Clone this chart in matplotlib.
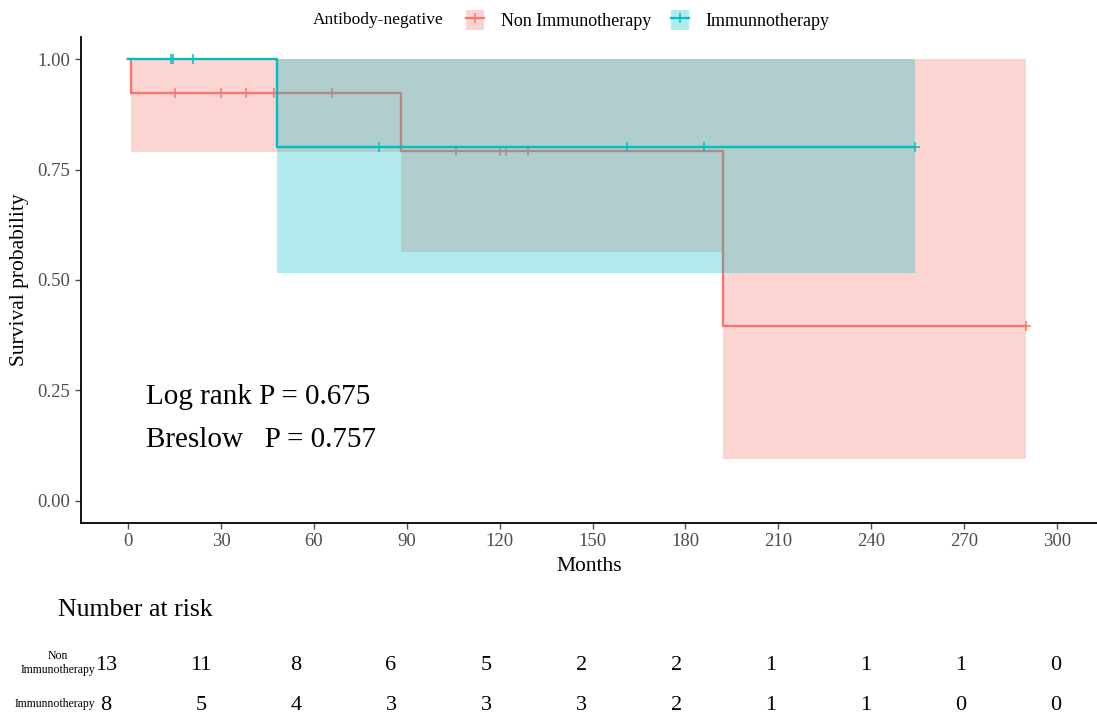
import matplotlib.pyplot as plt
from matplotlib.patches import Patch
from matplotlib.lines import Line2D
from matplotlib.legend_handler import HandlerTuple

plt.rcParams['font.family'] = ['Liberation Serif', 'DejaVu Serif']

# Kaplan-Meier steps
non_times = [0, 1, 88, 192]
non_surv = [1.0, 0.923, 0.792, 0.396]
non_lower = [1.0, 0.79, 0.563, 0.095]
non_upper = [1.0, 1.0, 1.0, 1.0]
non_end = 290
non_censor = [15, 30, 38, 47, 66, 106, 120, 122, 129, 290]

imm_times = [0, 48]
imm_surv = [1.0, 0.8]
imm_lower = [1.0, 0.516]
imm_upper = [1.0, 1.0]
imm_end = 254
imm_censor = [14, 14.6, 21, 81, 161, 186, 254]

# Number at risk
risk_times = [0, 30, 60, 90, 120, 150, 180, 210, 240, 270, 300]
risk_non = [13, 11, 8, 6, 5, 2, 2, 1, 1, 1, 0]
risk_imm = [8, 5, 4, 3, 3, 3, 2, 1, 1, 0, 0]

red = '#F8766D'
teal = '#00BFC4'


def surv_at(t, times, surv):
    s = surv[0]
    for ti, si in zip(times, surv):
        if t >= ti:
            s = si
    return s


fig = plt.figure(figsize=(10.97, 7.15), dpi=100)
ax = fig.add_axes([81 / 1097, 192 / 715, 1 - 81 / 1097, 486 / 715])

groups = [
    (non_times, non_surv, non_lower, non_upper, non_end, non_censor, red),
    (imm_times, imm_surv, imm_lower, imm_upper, imm_end, imm_censor, teal),
]
z = 1
for times, surv, lo, up, end, cens, col in groups:
    x = times + [end]
    ax.fill_between(x, lo + [lo[-1]], up + [up[-1]], step='post', color=col,
                    alpha=0.3, linewidth=0, zorder=z)
    ax.step(x, surv + [surv[-1]], where='post', color=col, lw=1.7, zorder=z + 1)
    cy = [surv_at(c, times, surv) for c in cens]
    ax.plot(cens, cy, ls='none', marker='+', ms=6.5, mew=1.1, color=col, zorder=z + 1)
    z += 2

ax.set_xlim(-15.2, 312.9)
ax.set_ylim(-0.05, 1.05)
ax.set_xticks(range(0, 301, 30))
ax.set_yticks([0, 0.25, 0.5, 0.75, 1.0])
ax.set_yticklabels(['0.00', '0.25', '0.50', '0.75', '1.00'])
for s in ['top', 'right']:
    ax.spines[s].set_visible(False)
for s in ['left', 'bottom']:
    ax.spines[s].set_linewidth(1.3)
ax.tick_params(labelsize=13.5, colors='#4d4d4d', length=4, width=1)
ax.set_xlabel('Months', fontsize=15.5, labelpad=5)
ax.set_ylabel('Survival probability', fontsize=15.5, labelpad=6)

ax.text(5.8, 0.235, 'Log rank P = 0.675', fontsize=21, va='center')
ax.text(5.8, 0.138, 'Breslow   P = 0.757', fontsize=21, va='center')

# legend on top
fig.text(313 / 1097, 1 - 20 / 715, 'Antibody-negative', fontsize=12.5, va='center')
h_non = (Patch(facecolor=red, alpha=0.3, edgecolor='none'),
         Line2D([], [], color=red, marker='+', ms=7, mew=1.1, lw=1.6))
h_imm = (Patch(facecolor=teal, alpha=0.3, edgecolor='none'),
         Line2D([], [], color=teal, marker='+', ms=7, mew=1.1, lw=1.6))
fig.legend([h_non, h_imm], ['Non Immunotherapy', 'Immunnotherapy'],
           handler_map={tuple: HandlerTuple(ndivide=1)},
           loc='center left', bbox_to_anchor=(450 / 1097, 1 - 20 / 715),
           ncol=2, frameon=False, fontsize=13, handlelength=1.0,
           handleheight=1.3, handletextpad=0.9, columnspacing=1.1)

# risk table
fig.text(58 / 1097, 1 - 610 / 715, 'Number at risk', fontsize=18.5, va='center')
tab = fig.add_axes([97 / 1097, 0, 1 - 97 / 1097, 100 / 715])
tab.set_xlim(-2.84, 312.9)
tab.set_ylim(0, 100)
tab.axis('off')
for t, n in zip(risk_times, risk_non):
    tab.text(t, 50, str(n), fontsize=16, ha='center', va='center')
for t, n in zip(risk_times, risk_imm):
    tab.text(t, 9, str(n), fontsize=16, ha='center', va='center')
tab.text(-3.5, 52, 'Non\nImmunotherapy', fontsize=8.5, ha='right', va='center',
         multialignment='center', linespacing=1.3)
tab.text(-3.5, 11, 'Immunnotherapy', fontsize=8.5, ha='right', va='center')

fig.savefig('out.png', dpi=100)
